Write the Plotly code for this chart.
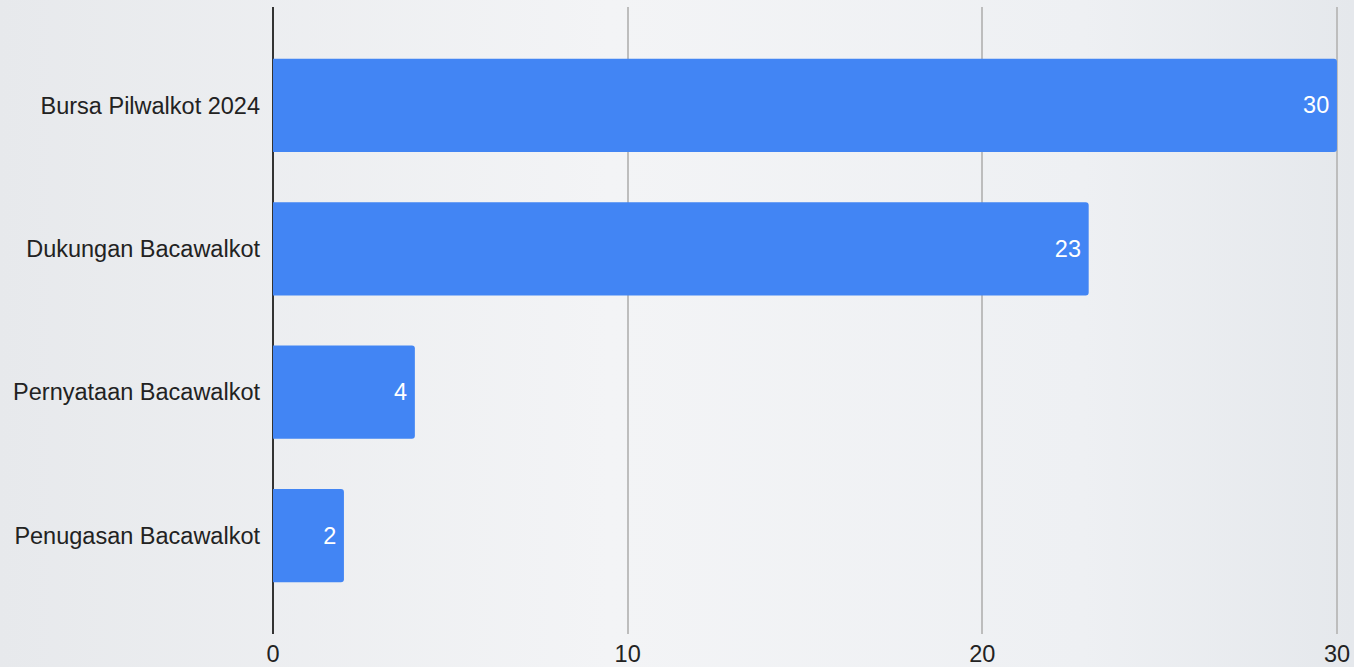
import plotly.graph_objects as go
import base64

categories = ["Bursa Pilwalkot 2024", "Dukungan Bacawalkot", "Pernyataan Bacawalkot", "Penugasan Bacawalkot"]
values = [30, 23, 4, 2]
tick_vals = [0, 10, 20, 30]
tick_text = ["0", "10", "20", "30"]

FONT = "Arial, Liberation Sans, sans-serif"
FS = 23.5

# soft background gradient (decorative)
svg = """<svg xmlns='http://www.w3.org/2000/svg' width='1354' height='667' preserveAspectRatio='none'>
<defs><linearGradient id='g' x1='0' y1='0' x2='1' y2='0'>
<stop offset='0' stop-color='#e7e9ec'/><stop offset='0.45' stop-color='#f3f4f6'/>
<stop offset='0.8' stop-color='#eef0f3'/><stop offset='1' stop-color='#e5e8ec'/>
</linearGradient></defs>
<rect width='1354' height='667' fill='url(#g)'/></svg>"""
bg_src = "data:image/svg+xml;base64," + base64.b64encode(svg.encode()).decode()

fig = go.Figure(go.Bar(
    x=values,
    y=categories,
    orientation="h",
    marker=dict(color="#4285F4", cornerradius=3, line=dict(width=0)),
    text=[f"{v}\u2009" for v in values],
    textposition="inside",
    insidetextanchor="end",
    textfont=dict(color="white", size=FS, family=FONT),
    width=0.65,
    hoverinfo="x+y",
))

fig.update_layout(
    width=1354, height=667,
    margin=dict(l=273, r=16, t=7, b=33),
    paper_bgcolor="#eef0f3",
    plot_bgcolor="rgba(0,0,0,0)",
    showlegend=False,
    font=dict(family=FONT, size=FS, color="#222222"),
    images=[dict(source=bg_src, xref="paper", yref="paper", x=-273/1065, y=1+7/627,
                 sizex=1354/1065, sizey=667/627,
                 xanchor="left", yanchor="top", sizing="stretch", layer="below")],
    xaxis=dict(
        range=[0, 30.03],
        tickvals=tick_vals, ticktext=tick_text,
        showgrid=True, gridcolor="#bdbdbd", gridwidth=1.5,
        zeroline=True, zerolinecolor="#333333", zerolinewidth=2,
        showline=False, ticks="",
        ticklabelstandoff=3,
        automargin=False,
        tickfont=dict(size=FS, color="#222222"),
    ),
    yaxis=dict(
        type="category",
        categoryorder="array", categoryarray=categories,
        range=[3.685, -0.685],
        showgrid=False, zeroline=False, showline=False, ticks="",
        ticklabelstandoff=12,
        automargin=False,
        tickfont=dict(size=FS, color="#222222"),
    ),
)

fig.write_html("out.html", config={"displayModeBar": False},
               post_script="document.body.style.margin='0';document.body.style.overflow='hidden';")
